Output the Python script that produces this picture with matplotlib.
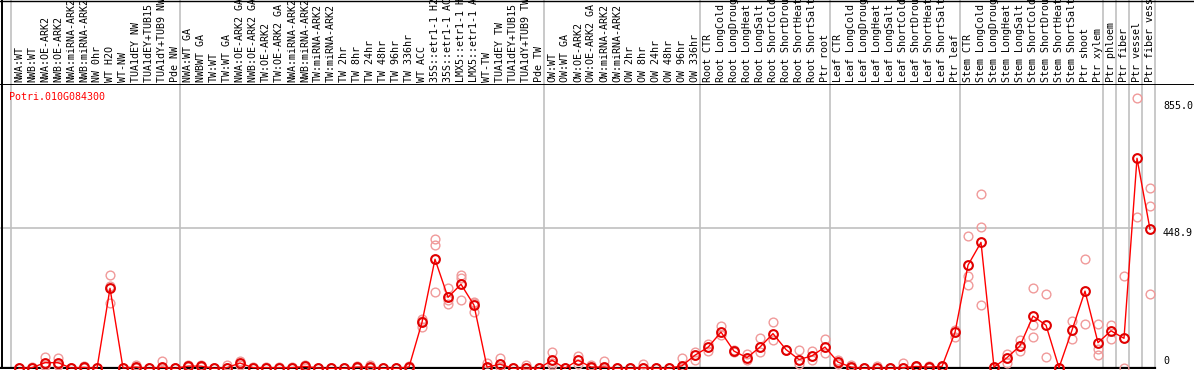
import matplotlib
matplotlib.use("Agg")
import matplotlib.pyplot as plt
import numpy as np

# ---- data ----
gene_name = "Potri.010G084300"

sample_labels = [
    # NW group
    "NWA:WT", "NWB:WT", "NWA:OE-ARK2", "NWB:OE-ARK2", "NWA:miRNA-ARK2",
    "NWB:miRNA-ARK2", "NW 0hr", "WT H2O", "WT-NW", "TUA1dEY NW",
    "TUA1dEY+TUB15 NW", "TUA1dY+TUB9 NW", "Pde NW",
    # TW group
    "NWA:WT GA", "NWBWT GA", "TW:WT", "TW:WT GA", "NWA:OE-ARK2 GA",
    "NWB:OE-ARK2 GA", "TW:OE-ARK2", "TW:OE-ARK2 GA", "NWA:miRNA-ARK2",
    "NWB:miRNA-ARK2", "TW:miRNA-ARK2", "TW:miRNA-ARK2", "TW 2hr", "TW 8hr",
    "TW 24hr", "TW 48hr", "TW 96hr", "TW 336hr", "WT ACC", "35S::etr1-1 H2O",
    "35S::etr1-1 ACC", "LMX5::etr1-1 H2O", "LMX5::etr1-1 ACC", "WT-TW",
    "TUA1dEY TW", "TUA1dEY+TUB15 TW", "TUA1dY+TUB9 TW", "Pde TW",
    # OW group
    "OW:WT", "OW:WT GA", "OW:OE-ARK2", "OW:OE-ARK2 GA", "OW:miRNA-ARK2",
    "OW:miRNA-ARK2", "OW 2hr", "OW 8hr", "OW 24hr", "OW 48hr", "OW 96hr",
    "OW 336hr",
    # Root
    "Root CTR", "Root LongCold", "Root LongDrought", "Root LongHeat",
    "Root LongSalt", "Root ShortCold", "Root ShortDrought", "Root ShortHeat",
    "Root ShortSalt", "Ptr root",
    # Leaf
    "Leaf CTR", "Leaf LongCold", "Leaf LongDrought", "Leaf LongHeat",
    "Leaf LongSalt", "Leaf ShortCold", "Leaf ShortDrought", "Leaf ShortHeat",
    "Leaf ShortSalt", "Ptr leaf",
    # Stem
    "Stem CTR", "Stem LongCold", "Stem LongDrought", "Stem LongHeat",
    "Stem LongSalt", "Stem ShortCold", "Stem ShortDrought", "Stem ShortHeat",
    "Stem ShortSalt", "Ptr shoot", "Ptr xylem",
    # single tissues
    "Ptr phloem", "Ptr fiber", "Ptr vessel", "Ptr fiber vessel",
]

# index of the first sample of each group (grey separators)
group_starts = [0, 13, 41, 53, 63, 73, 84, 85, 86, 87, 88]

mean_values = [
    0, 2, 18, 18, 1, 3, 0, 256, 1, 4, 0, 3, 0,
    7, 7, 0, 2, 17, 2, 2, 2, 2, 6, 1, 0, 0, 4, 4, 0, 0, 4,
    147, 349, 227, 269, 202, 4, 13, 0, 1, 0,
    26, 0, 26, 4, 4, 0, 0, 2, 0, 0, 8, 42,
    67, 116, 55, 34, 68, 111, 60, 28, 40, 68,
    20, 4, 0, 2, 0, 2, 6, 4, 6, 115,
    330, 403, 4, 34, 72, 167, 138, 2, 122, 247, 82,
    120, 96, 672, 445,
]

replicate_values = [
    [0, 0], [0, 4], [36, 10, 8], [33, 12, 9], [0, 2], [0, 6], [0, 0],
    [298, 262, 210], [0, 2], [10, 2], [0, 0], [22, 0], [0, 0],
    [12, 4], [12, 3], [0, 0], [12, 0], [22, 12], [4, 0], [4, 0], [4, 0],
    [4, 0], [10, 2], [2, 0], [0, 0], [0, 0], [8, 0], [12, 0], [0, 0],
    [0, 0], [8, 0], [159, 132, 150], [413, 394, 244], [256, 205, 220],
    [298, 288, 220], [213, 181, 210], [17, 0], [34, 5], [0, 0], [12, 0],
    [0, 0],
    [52, 10, 16], [0, 0], [38, 15], [12, 0], [22, 0], [0, 0], [0, 0],
    [13, 0], [0, 0], [0, 0], [33, 0], [52, 28],
    [79, 55], [135, 106], [52, 60], [47, 26], [98, 52], [149, 90],
    [60, 58], [58, 15], [55, 26], [95, 49],
    [26, 15], [10, 0], [0, 0], [6, 0], [0, 0], [17, 0], [8, 4], [6, 2],
    [8, 4], [124, 100],
    [423, 295, 268], [557, 451, 204], [4, 0], [47, 17], [92, 56],
    [256, 137, 100], [237, 36], [2, 0], [151, 94], [349, 143],
    [143, 63, 44],
    [138, 95], [295, 2], [865, 483], [576, 520, 237],
]

y_ticks = [0, 448.9, 855.0]
y_tick_labels = ["0", "448.9", "855.0"]

# ---- figure geometry (pixel based, 1194 x 370) ----
W, H = 1194, 370
fig = plt.figure(figsize=(W / 100, H / 100), dpi=100)
fig.patch.set_facecolor("white")

mono = "DejaVu Sans Mono"
fsize = 7.2
col_w = 13.0          # pixel width of one sample column
x0_pix = 19.0         # pixel x of the first sample marker
xlim = ((0 - x0_pix) / col_w, (W - x0_pix) / col_w)
x_end = (1155 - x0_pix) / col_w
sep_x = [g - 8 / col_w for g in group_starts]

# main data axes: pixel y 85..369
ax = fig.add_axes([0, 1 / H, 1, 284 / H])
ax.set_xlim(*xlim)
ax.set_ylim(-2.2, 906.5)
ax.axis("off")

# label strip on top: pixel y 0..85
lab = fig.add_axes([0, 285 / H, 1, 85 / H])
lab.set_xlim(*xlim)
lab.set_ylim(0, 85)
lab.axis("off")

x = np.arange(len(mean_values))

# separators, grid and borders
for sx in sep_x:
    ax.axvline(sx, color="#c0c0c0", lw=1.2, zorder=1)
    lab.axvline(sx, color="#c0c0c0", lw=1.2, zorder=1)
ax.plot([xlim[0], x_end], [448.9, 448.9], color="#c0c0c0", lw=1.2, zorder=1)
ax.plot([xlim[0], x_end], [0, 0], color="black", lw=1.6, zorder=1)
lab.axhline(0.5, color="black", lw=1.4)
lab.axhline(84.5, color="black", lw=1.0)
ax.axvline(xlim[0] + 2 / col_w, color="black", lw=1.4)
lab.axvline(xlim[0] + 2 / col_w, color="black", lw=1.4)

# replicate points
for i, reps in enumerate(replicate_values):
    ax.plot([i] * len(reps), reps, linestyle="none", marker="o",
            markersize=6.3, markerfacecolor="none",
            markeredgecolor="#f09a9a", markeredgewidth=1.0, zorder=2)

# mean line and markers
ax.plot(x, mean_values, color="red", lw=1.0, zorder=3)
ax.plot(x, mean_values, linestyle="none", marker="o", markersize=6.3,
        markerfacecolor="none", markeredgecolor="#e00000",
        markeredgewidth=1.5, zorder=4)

# sample labels, rotated; long ones run off the top like in the original
for i, name in enumerate(sample_labels):
    lab.text(i, 3, name, rotation=90, ha="left", va="center",
             rotation_mode="anchor", fontsize=fsize, family=mono,
             clip_on=True)

# y tick labels on the right
tick_x = (1163 - x0_pix) / col_w
for val, txt in zip(y_ticks, y_tick_labels):
    ax.text(tick_x, val if val > 0 else 6, txt, ha="left",
            va="top" if val > 0 else "bottom", fontsize=fsize, family=mono,
            clip_on=False)

# gene id in red
fig.text(9 / W, 1 - 97 / H, gene_name, color="red", fontsize=fsize,
         family=mono, ha="left", va="center")

fig.savefig("out.png", dpi=100, facecolor="white")
